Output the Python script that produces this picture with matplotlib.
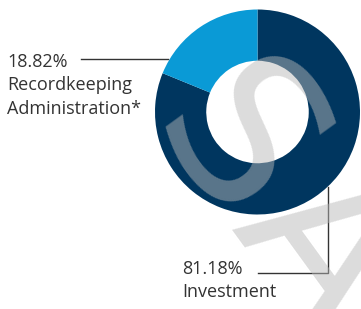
import matplotlib
matplotlib.use("Agg")
import matplotlib.pyplot as plt

# Data
categories = ["Investment", "Recordkeeping\nAdministration*"]
shares = [81.18, 18.82]
colors = ["#00365f", "#0a9ad6"]

W, H = 361, 309
fig = plt.figure(figsize=(W / 100, H / 100), dpi=100)

# donut axes (center ~ (257.5, 112) px, radius ~102.5 px)
cx, cy, r = 257.5, 112, 102.5
ax = fig.add_axes([(cx - r) / W, (H - cy - r) / H, 2 * r / W, 2 * r / H])
ax.pie(shares, colors=colors, startangle=90, counterclock=False,
       wedgeprops=dict(width=0.5, linewidth=0))
ax.set_xlim(-1, 1)
ax.set_ylim(-1, 1)
ax.set_aspect("equal")
ax.axis("off")

# overlay in pixel coords for labels / leader lines
ov = fig.add_axes([0, 0, 1, 1], zorder=2)
ov.set_xlim(0, W)
ov.set_ylim(H, 0)
ov.axis("off")
ov.patch.set_alpha(0)

font = "Open Sans"
fs = 13.0
line_kw = dict(color="#333333", lw=1.0)

# Recordkeeping label
ov.text(7, 53, f"{shares[1]:.2f}%\n{categories[1]}", ha="left", va="top",
        fontsize=fs, family=font, color="#333333", linespacing=1.38)
ov.plot([81, 168], [59, 59], **line_kw)

# Investment label
ov.text(182, 260, f"{shares[0]:.2f}%\n{categories[0]}", ha="left", va="top",
        fontsize=fs, family=font, color="#333333", linespacing=1.38)
ov.plot([258, 328, 328], [273, 273, 187], **line_kw)

# watermark
fig.text(0.40, 0.583, "SAMPLE", rotation=-54, rotation_mode="anchor",
         ha="left", va="baseline", fontsize=150, family="DejaVu Sans",
         color="#b8b8b8", alpha=0.49, zorder=5)

fig.savefig("out.png", dpi=100)
